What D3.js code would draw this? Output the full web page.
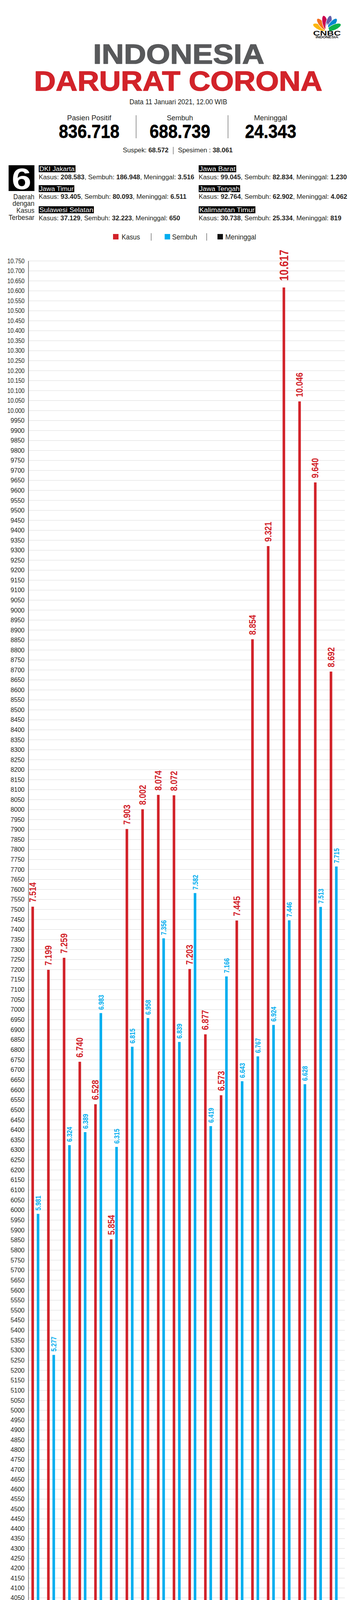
<!DOCTYPE html>
<html><head><meta charset="utf-8">
<script src="https://cdn.jsdelivr.net/npm/d3@7"></script>
<style>html,body{margin:0;padding:0;background:#fff}svg{display:block}</style>
</head><body>
<script>
// ---------------- DATA ----------------
const dates = ["23","24","25","26","27","28","29","30","31","01","02","03","04","05","06","07","08","09","10","11"];
const monthNames = ["Desember","Januari"];
const monthFirst = ["23","01"];
const monthLast = ["31","11"];
const kasus = [7514,7199,7259,6740,6528,5854,7903,8002,8074,8072,7203,6877,6573,7445,8854,9321,10617,10046,9640,8692];
const sembuh = [5981,5277,6324,6389,6983,6315,6815,6958,7356,6839,7582,6419,7166,6643,6767,6924,7446,6628,7513,7715];
const meninggal = [151,181,258,147,243,215,251,241,194,191,226,179,177,198,187,224,233,194,182,214];
const seriesNames = ["Kasus","Sembuh","Meninggal"];
const yTicks = d3.range(0, 10751, 50);

const title1 = "INDONESIA";
const title2 = "DARURAT CORONA";
const dataLine = "Data 11 Januari 2021, 12.00 WIB";
const statLabels = ["Pasien Positif","Sembuh","Meninggal"];
const statValues = ["836.718","688.739","24.343"];
const suspek = "68.572";
const spesimen = "38.061";

const topCount = "6";
const topCaption = ["Daerah","dengan","Kasus","Terbesar"];
const regionNames = ["DKI Jakarta","Jawa Barat","Jawa Timur","Jawa Tengah","Sulawesi Selatan","Kalimantan Timur"];
const regionKasus = ["208.583","99.045","93.405","92.764","37.129","30.738"];
const regionSembuh = ["186.948","82.834","80.093","62.902","32.223","25.334"];
const regionMeninggal = ["3.516","1.230","6.511","4.062","650","819"];

const slogan = [["Selalu ",false],["#ingatpesanibu",true],[", untuk ",false],["#pakaimasker",true],[", ",false],["#jagarak",true],[", dan ",false],["#cucitanganpakaisabun",true]];
const siteText = "WWW.CNBCINDONESIA.COM";
const source = [["SUMBER: ",false],["KEMENKES RI",true],[" / INFOGRAFIS : ",false],["TIM INFOGRAFIS CNBC INDONESIA",true]];

// ---------------- STYLE / LAYOUT ----------------
const RED = "#d2232a", BLUE = "#00aeef", BLACK = "#111111", INK = "#231f20";
const SANS = "'Liberation Sans', Arial, Helvetica, sans-serif";
const NARROW = "'Liberation Sans Narrow', 'Arial Narrow', 'Liberation Sans', sans-serif";

const svg = d3.select("body").append("svg").attr("width", 900).attr("height", 6300);
svg.append("rect").attr("width",900).attr("height",6300).attr("fill","#fff");

function fit(sel, target, anchor) {
  const n = sel.node(); const b = n.getBBox();
  if (!b.width) return sel;
  const k = target / b.width;
  const ox = anchor === "middle" ? b.x + b.width/2 : (anchor === "end" ? b.x + b.width : b.x);
  sel.attr("transform", `translate(${ox},0) scale(${k},1) translate(${-ox},0)`);
  return sel;
}
function text(g, s, x, y, o = {}) {
  const t = g.append("text").attr("x", x).attr("y", y)
    .attr("font-family", o.family || SANS).attr("font-size", o.size || 16)
    .attr("font-weight", o.weight || 400).attr("fill", o.fill || INK)
    .attr("text-anchor", o.anchor || "start");
  if (o.style) t.attr("font-style", o.style);
  if (o.stroke) t.attr("stroke", o.fill || INK).attr("stroke-width", o.stroke).attr("stroke-linejoin", "round");
  t.text(s);
  if (o.width) fit(t, o.width, o.anchor || "start");
  return t;
}
function rich(g, parts, x, y, o = {}) {
  const t = g.append("text").attr("x", x).attr("y", y)
    .attr("font-family", o.family || SANS).attr("font-size", o.size || 16)
    .attr("fill", o.fill || INK).attr("text-anchor", o.anchor || "start");
  if (o.style) t.attr("font-style", o.style);
  parts.forEach(([s, b]) => t.append("tspan").attr("font-weight", b ? 700 : 400).text(s));
  if (o.width) fit(t, o.width, o.anchor || "start");
  return t;
}

// ---------------- HEADER ----------------
const head = svg.append("g");
const logo = head.append("g");
const featherColors = ["#fcb711","#f37021","#cc004c","#6460aa","#0089d0","#0db14b"];
const bx = 836, by = 78;
featherColors.forEach((c, i) => {
  const a = -66 + i * 26.4;
  const r = a * Math.PI / 180;
  const fx = bx + Math.sin(r) * 20, fy = by - Math.cos(r) * 20;
  logo.append("ellipse").attr("cx", fx).attr("cy", fy).attr("rx", 7.2).attr("ry", 19)
    .attr("transform", `rotate(${a},${fx},${fy})`).attr("fill", c).attr("stroke", "#fff").attr("stroke-width", 1.2);
});
logo.append("path").attr("d", `M${bx-6},${by+1} L${bx},${by-20} L${bx+6},${by+1} Z`).attr("fill", "#fff");
text(logo, "CNBC", 836, 91, {size: 17, weight: 700, anchor: "middle", width: 71, fill: "#111"});
text(logo, "INDONESIA", 836, 98.5, {size: 8.5, weight: 700, anchor: "middle", width: 58, fill: "#111"});

text(head, title1, 457, 163, {size: 71, weight: 700, fill: "#58595b", anchor: "middle", width: 438, stroke: 1.6});
text(head, title2, 455.5, 232, {size: 70, weight: 700, fill: RED, anchor: "middle", width: 737, stroke: 1.6});
text(head, dataLine, 456, 267, {size: 18.5, anchor: "middle", width: 250});

const statX = [228, 460, 692];
const statLabelW = [114, 67, 85];
const statValueW = [155, 155, 131];
statLabels.forEach((s, i) => {
  text(head, s, statX[i], 308, {size: 18.5, anchor: "middle", width: statLabelW[i]});
  text(head, statValues[i], statX[i], 353, {size: 49, weight: 700, anchor: "middle", width: statValueW[i], fill: "#000", family: NARROW, stroke: 0.8});
});
[348, 583].forEach(x => head.append("line").attr("x1", x).attr("x2", x).attr("y1", 295).attr("y2", 354).attr("stroke", "#333").attr("stroke-width", 1));
rich(head, [["Suspek: ", false], [suspek, true]], 314, 390, {size: 17, width: 117});
head.append("line").attr("x1", 443).attr("x2", 443).attr("y1", 376).attr("y2", 395).attr("stroke", "#333");
rich(head, [["Spesimen : ", false], [spesimen, true]], 455, 390, {size: 17, width: 140});

// ---------------- REGIONS ----------------
const reg = svg.append("g");
reg.append("rect").attr("x", 22).attr("y", 423).attr("width", 66).attr("height", 66).attr("fill", "#000");
text(reg, topCount, 55, 484, {size: 76, weight: 700, fill: "#fff", anchor: "middle", width: 50});
const capW = [54, 56, 46, 66];
const capY = [510, 527, 545, 563];
topCaption.forEach((s, i) => text(reg, s, 88, capY[i], {size: 18, anchor: "end", width: capW[i]}));

const colX = [99, 508];
const boxY = [423, 474, 528];
const labY = [438, 489, 543];
const detY = [459, 509, 564];
const boxW = [94, 96, 91, 106, 141, 145];
const detW = [398, 379, 378, 380, 362, 365];
regionNames.forEach((name, i) => {
  const c = i % 2, r = Math.floor(i / 2);
  reg.append("rect").attr("x", colX[c]).attr("y", boxY[r]).attr("width", boxW[i]).attr("height", 18).attr("fill", "#000");
  text(reg, name, colX[c] + 1.5, labY[r], {size: 17, fill: "#fff", width: boxW[i] - 3});
  rich(reg, [["Kasus: ", false], [regionKasus[i], true], [", Sembuh: ", false], [regionSembuh[i], true], [", Meninggal: ", false], [regionMeninggal[i], true]],
    colX[c], detY[r], {size: 17, width: detW[i]});
});

// ---------------- LEGEND ----------------
const leg = svg.append("g");
const legColors = [RED, BLUE, BLACK];
const legSqX = [289, 421, 556];
const legTxX = [311, 440, 576];
const legTxW = [47, 64, 79];
seriesNames.forEach((s, i) => {
  leg.append("rect").attr("x", legSqX[i]).attr("y", 599).attr("width", 14).attr("height", 14).attr("fill", legColors[i]);
  text(leg, s, legTxX[i], 613, {size: 18, width: legTxW[i]});
});
[386.5, 528.5].forEach(x => leg.append("line").attr("x1", x).attr("x2", x).attr("y1", 597).attr("y2", 616).attr("stroke", "#333"));

// ---------------- CHART ----------------
const X0 = 72.7, X1 = 881.7;
const y = d3.scaleLinear().domain([0, 2700, 5050, 7600, 10750]).range([6079, 4773, 3585, 2277, 668]);
const x = d3.scaleBand().domain(dates).range([77.2, 880]).paddingInner(0).paddingOuter(0);
const cx = d => x(d) + x.bandwidth() / 2;
const chart = svg.append("g");

chart.append("g").selectAll("line").data(yTicks.filter(v => v > 0)).join("line")
  .attr("x1", X0).attr("x2", X1).attr("y1", d => y(d)).attr("y2", d => y(d))
  .attr("stroke", "#d9d9d9").attr("stroke-width", 1);

const idFmt = d3.formatLocale({decimal: ",", thousands: ".", grouping: [3], currency: ["Rp", ""]}).format(",");
const yAxis = d3.axisLeft(y).tickValues(yTicks).tickSize(0).tickPadding(10)
  .tickFormat(v => v >= 10000 ? idFmt(v) : String(v));
const ya = chart.append("g").attr("transform", `translate(${X0},0)`).call(yAxis);
ya.select(".domain").remove();
ya.selectAll("text").attr("font-family", SANS).attr("font-size", 16).attr("fill", INK)
  .each(function(v) { if (v >= 10000) fit(d3.select(this), 44, "end"); });
chart.append("line").attr("x1", X0).attr("x2", X0).attr("y1", y(10750)).attr("y2", y(0)).attr("stroke", "#555").attr("stroke-width", 1.4);

const series = [
  {vals: kasus, color: RED, off: -13.7, font: 23, dw: 11.4, gap: 11, lab: RED},
  {vals: sembuh, color: BLUE, off: 0, font: 19, dw: 8.5, gap: 8.5, lab: BLUE},
  {vals: meninggal, color: BLACK, off: 13, font: 17.5, dw: 7.8, gap: 10, lab: "#000"}
];
const maxKasus = d3.max(kasus);
series.forEach((s, si) => {
  const g = chart.append("g");
  g.selectAll("rect").data(dates).join("rect")
    .attr("x", d => cx(d) + s.off - 3.3).attr("width", 6.6)
    .attr("y", (d, i) => y(s.vals[i])).attr("height", (d, i) => y(0) - y(s.vals[i]))
    .attr("fill", s.color);
  g.selectAll("text").data(dates).join("text")
    .each(function(d, i) {
      const v = s.vals[i];
      const big = si === 0 && v === maxKasus;
      const label = idFmt(v);
      const digits = label.replace(/\./g, "").length, dots = label.length - digits;
      const fs = big ? 31 : s.font;
      const dw = big ? 14.5 : s.dw;
      const gap = big ? 17 : s.gap;
      d3.select(this)
        .attr("transform", `translate(${cx(d) + s.off},${y(v) - gap}) rotate(-90)`)
        .attr("x", 0).attr("y", 0).attr("dy", "0.36em")
        .attr("font-family", NARROW).attr("font-weight", 700).attr("font-size", fs)
        .attr("fill", s.lab)
        .attr("textLength", dw * (digits + dots * 0.5)).attr("lengthAdjust", "spacingAndGlyphs")
        .text(label);
    });
});

chart.append("line").attr("x1", X0).attr("x2", X1).attr("y1", y(0)).attr("y2", y(0)).attr("stroke", "#333").attr("stroke-width", 1.5);
chart.append("g").selectAll("line").data(dates.slice(1)).join("line")
  .attr("x1", d => x(d)).attr("x2", d => x(d)).attr("y1", y(0)).attr("y2", y(0) - 4)
  .attr("stroke", "#333").attr("stroke-width", 1);
const xAxis = d3.axisBottom(x).tickSize(0).tickPadding(0);
const xa = chart.append("g").attr("transform", `translate(0,${y(0)})`).call(xAxis);
xa.select(".domain").remove();
xa.selectAll("text").attr("dy", null).attr("y", 18).attr("font-family", SANS).attr("font-size", 16).attr("font-weight", 700).attr("fill", INK);

monthNames.forEach((m, i) => {
  const a = x(monthFirst[i]) + 4, b = x(monthLast[i]) + x.bandwidth() - 6.5;
  chart.append("line").attr("x1", a).attr("x2", b).attr("y1", 6107.3).attr("y2", 6107.3).attr("stroke", "#333").attr("stroke-width", 1);
  text(chart, m, (a + b) / 2, 6129, {size: 16, anchor: "middle", fill: INK});
});

// ---------------- FOOTER ----------------
const foot = svg.append("g");
foot.append("rect").attr("x", 110).attr("y", 6176).attr("width", 680).attr("height", 26.5).attr("fill", "#000");
rich(foot, slogan, 122.7, 6195, {size: 17, style: "italic", fill: "#fff", width: 655});
foot.append("path").attr("d", "M20,6279.3 L900,6279.3 L900,6300 L0,6300 Z").attr("fill", "#000");
text(foot, siteText, 36, 6293.3, {size: 9.5, weight: 700, fill: "#fff", width: 134});
rich(foot, source, 470, 6293.3, {size: 9.5, style: "italic", fill: "#fff", width: 387});
</script>
</body></html>
